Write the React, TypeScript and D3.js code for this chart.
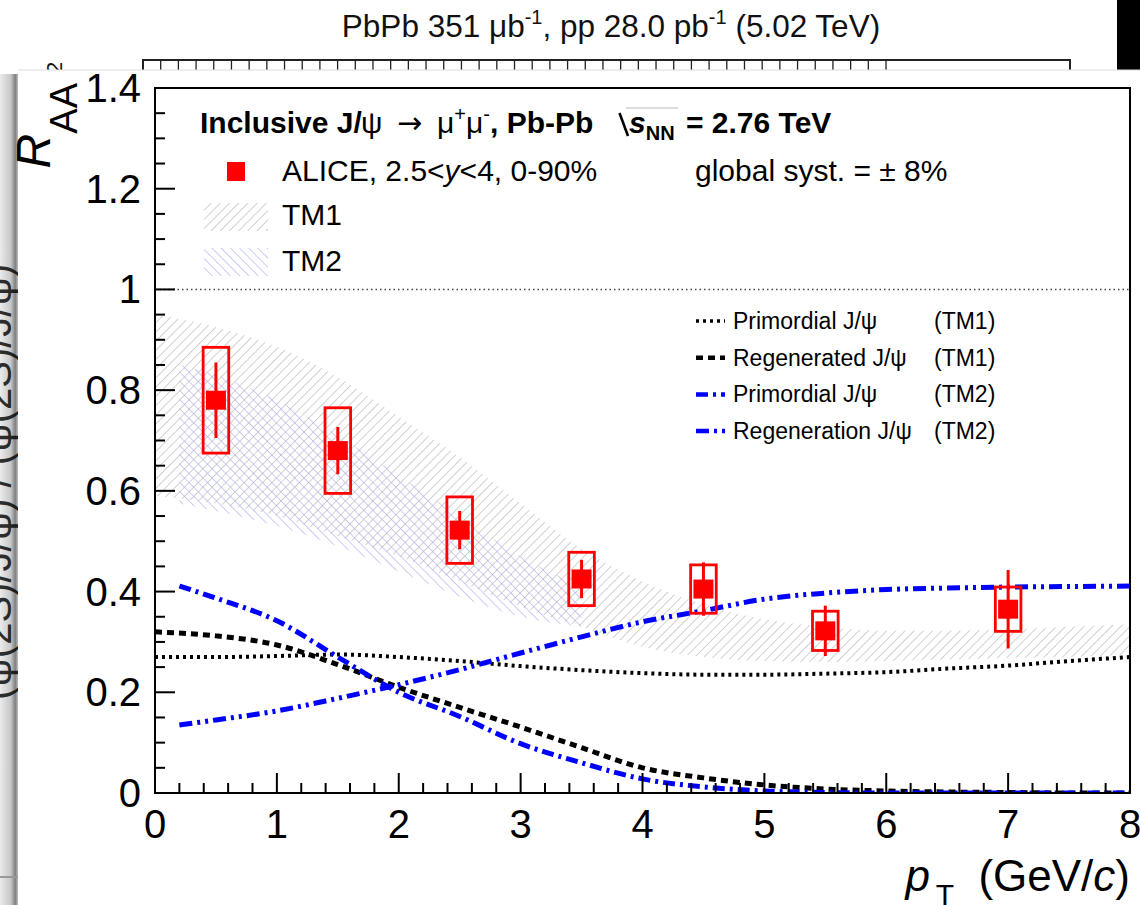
import React from "react";
import * as d3 from "d3";

// ALICE inclusive J/psi RAA points
const ptCenters = [0.5, 1.5, 2.5, 3.5, 4.5, 5.5, 7.0];
const raaValues = [0.78, 0.68, 0.522, 0.425, 0.405, 0.322, 0.365];
const statErrors = [0.075, 0.047, 0.038, 0.038, 0.053, 0.05, 0.078];
const systErrors = [0.105, 0.085, 0.066, 0.053, 0.048, 0.039, 0.044];
const systHalfWidth = 0.105;

// TM1 model (gray band + black curves)
const tm1Pt = [0, 0.5, 1, 1.5, 2, 2.5, 3, 3.5, 4, 4.5, 5, 5.5, 6, 6.5, 7, 7.5, 8];
const tm1High = [0.95, 0.925, 0.886, 0.826, 0.747, 0.667, 0.575, 0.485, 0.42, 0.375, 0.345, 0.33, 0.322, 0.322, 0.325, 0.33, 0.335];
const tm1Low = [0.59, 0.575, 0.55, 0.51, 0.47, 0.42, 0.37, 0.33, 0.29, 0.27, 0.262, 0.26, 0.262, 0.265, 0.268, 0.27, 0.275];
const tm1Primordial = [0.27, 0.27, 0.272, 0.275, 0.27, 0.262, 0.252, 0.244, 0.238, 0.235, 0.235, 0.237, 0.24, 0.247, 0.253, 0.262, 0.27];
const tm1Regenerated = [0.32, 0.312, 0.294, 0.255, 0.21, 0.17, 0.131, 0.09, 0.05, 0.03, 0.016, 0.008, 0.004, 0.002, 0.001, 0, 0];

// TM2 model (blue band + blue curves)
const tm2Pt = [0.2, 0.5, 1, 1.5, 2, 2.5, 3, 3.5, 4, 4.5, 5, 5.5, 6, 6.5, 7, 7.5, 8];
const tm2Primordial = [0.411, 0.387, 0.342, 0.27, 0.2, 0.152, 0.098, 0.06, 0.028, 0.012, 0.004, 0.001, 0, 0, 0, 0, 0];
const tm2Regeneration = [0.135, 0.145, 0.163, 0.188, 0.215, 0.245, 0.278, 0.31, 0.34, 0.362, 0.385, 0.397, 0.404, 0.407, 0.409, 0.41, 0.411];
const tm2BandPt = [0.2, 0.5, 1, 1.5, 2, 2.5, 3, 3.5];
const tm2High = [0.85, 0.83, 0.78, 0.71, 0.63, 0.55, 0.47, 0.41];
const tm2Low = [0.575, 0.56, 0.53, 0.49, 0.44, 0.39, 0.35, 0.33];

const xTickLabels = ["0", "1", "2", "3", "4", "5", "6", "7", "8"];
const yTickLabels = ["0", "0.2", "0.4", "0.6", "0.8", "1", "1.2", "1.4"];

const curveLegend = [
  { label: "Primordial J/\u03c8", model: "(TM1)", color: "#000", dash: "3 4", width: 4 },
  { label: "Regenerated J/\u03c8", model: "(TM1)", color: "#000", dash: "7 5", width: 5 },
  { label: "Primordial J/\u03c8", model: "(TM2)", color: "#0000ff", dash: "12 5 3 5", width: 5 },
  { label: "Regeneration J/\u03c8", model: "(TM2)", color: "#0000ff", dash: "13 5 3 5 3 5", width: 5 },
];

// background plot top axis ticks
const bgTicks = d3.range(0, 43);

const FONT = "'Liberation Sans', Arial, Helvetica, sans-serif";

const App: React.FC = () => {
  const width = 1140;
  const height = 905;

  const x = d3.scaleLinear().domain([0, 8]).range([155, 1130]);
  const y = d3.scaleLinear().domain([0, 1.4]).range([793, 88]);
  const bgX = d3.scaleLinear().domain([0, 52.4]).range([143, 1070]);

  const line = d3
    .line<[number, number]>()
    .x((d) => x(d[0]))
    .y((d) => y(d[1]))
    .curve(d3.curveMonotoneX);

  const band = d3
    .area<[number, number, number]>()
    .x((d) => x(d[0]))
    .y0((d) => y(d[1]))
    .y1((d) => y(d[2]))
    .curve(d3.curveMonotoneX);

  const tm1Band = band(tm1Pt.map((p, i) => [p, tm1Low[i], tm1High[i]]));
  const tm2Band = band(tm2BandPt.map((p, i) => [p, tm2Low[i], tm2High[i]]));

  const curves = [
    tm1Pt.map((p, i) => [p, tm1Primordial[i]] as [number, number]),
    tm1Pt.map((p, i) => [p, tm1Regenerated[i]] as [number, number]),
    tm2Pt.map((p, i) => [p, tm2Primordial[i]] as [number, number]),
    tm2Pt.map((p, i) => [p, tm2Regeneration[i]] as [number, number]),
  ];

  const xTicks = x.ticks(40);
  const yTicks = y.ticks(28);
  const isInt = (t: number) => Math.abs(t - Math.round(t)) < 1e-6;
  const isMajorY = (t: number) => Math.abs(t / 0.2 - Math.round(t / 0.2)) < 1e-6;

  const [x0, x1] = x.range();
  const [y0, y1] = y.range();

  return (
    <svg
      width={width}
      height={height}
      style={{ position: "absolute", left: 0, top: 0, background: "#fff" }}
      fontFamily={FONT}
    >
      <defs>
        <pattern id="hatchTM1" width="6.5" height="6.5" patternUnits="userSpaceOnUse" patternTransform="rotate(45)">
          <line x1="0" y1="0" x2="0" y2="6.5" stroke="#b3b3b3" strokeWidth="1.2" />
        </pattern>
        <pattern id="hatchTM2" width="6.5" height="6.5" patternUnits="userSpaceOnUse" patternTransform="rotate(-45)">
          <line x1="0" y1="0" x2="0" y2="6.5" stroke="#a9a9f2" strokeWidth="1.2" />
        </pattern>
        <linearGradient id="shadow" x1="0" x2="1" y1="0" y2="0">
          <stop offset="0" stopColor="#000" stopOpacity="0.08" />
          <stop offset="0.6" stopColor="#000" stopOpacity="0.22" />
          <stop offset="0.85" stopColor="#000" stopOpacity="0.5" />
          <stop offset="1" stopColor="#000" stopOpacity="0.25" />
        </linearGradient>
        <clipPath id="frameClip">
          <rect x={x0} y={y1} width={x1 - x0} height={y0 - y1} />
        </clipPath>
      </defs>

      {/* background plot peeking out behind */}
      <text x={611} y={37} textAnchor="middle" fontSize={31.5} fill="#111">
        PbPb 351 {"\u03bc"}b
        <tspan fontSize={20} dy={-13}>-1</tspan>
        <tspan dy={13}>, pp 28.0 pb</tspan>
        <tspan fontSize={20} dy={-13}>-1</tspan>
        <tspan dy={13}> (5.02 TeV)</tspan>
      </text>
      <path d={`M${bgX(0)},75V60H${bgX(52.4)}V75`} fill="none" stroke="#222" strokeWidth={2} />
      {bgTicks.map((t) => (
        <line key={t} x1={bgX(t)} x2={bgX(t)} y1={60} y2={72} stroke="#222" strokeWidth={1.3} />
      ))}
      <rect x={1117} y={0} width={23} height={70} fill="#000" />
      <text transform="translate(11,700) rotate(-90)" fontSize={40} fill="#333">
        ({"\u03c8"}(2S)/J/{"\u03c8"})  /  ({"\u03c8"}(2S)/J/{"\u03c8"})
      </text>
      <text transform="translate(62,74) rotate(-90)" fontSize={22} fill="#111">2</text>

      {/* foreground panel with shadow */}
      <rect x={0} y={74} width={18} height={831} fill="url(#shadow)" />
      <line x1={0} x2={18} y1={877} y2={877} stroke="#999" strokeWidth={2} />
      <rect x={18} y={70} width={1122} height={835} fill="#fff" />
      <line x1={18} x2={1140} y1={70} y2={70} stroke="#ddd" strokeWidth={1} />

      {/* bands */}
      <g clipPath="url(#frameClip)">
        <path d={tm1Band ?? ""} fill="url(#hatchTM1)" />
        <path d={tm2Band ?? ""} fill="url(#hatchTM2)" />
      </g>

      {/* R = 1 reference */}
      <line x1={x0} x2={x1} y1={y(1)} y2={y(1)} stroke="#444" strokeWidth={1.5} strokeDasharray="1.5 3" />

      {/* model curves */}
      <g clipPath="url(#frameClip)" fill="none">
        {curves.map((c, i) => (
          <path
            key={i}
            d={line(c) ?? ""}
            stroke={curveLegend[i].color}
            strokeWidth={curveLegend[i].width}
            strokeDasharray={curveLegend[i].dash}
          />
        ))}
      </g>

      {/* data */}
      {ptCenters.map((p, i) => {
        const cx = x(p);
        const cy = y(raaValues[i]);
        return (
          <g key={i}>
            <rect
              x={x(p - systHalfWidth)}
              y={y(raaValues[i] + systErrors[i])}
              width={x(p + systHalfWidth) - x(p - systHalfWidth)}
              height={y(raaValues[i] - systErrors[i]) - y(raaValues[i] + systErrors[i])}
              fill="none"
              stroke="#ff0000"
              strokeWidth={2.8}
            />
            <line
              x1={cx}
              x2={cx}
              y1={y(raaValues[i] + statErrors[i])}
              y2={y(raaValues[i] - statErrors[i])}
              stroke="#ff0000"
              strokeWidth={3}
            />
            <rect x={cx - 10} y={cy - 9.5} width={20} height={19} fill="#ff0000" />
          </g>
        );
      })}

      {/* frame and axes */}
      <rect x={x0} y={y1} width={x1 - x0} height={y0 - y1} fill="none" stroke="#000" strokeWidth={2} />
      {xTicks.map((t) => (
        <line key={`xt${t}`} x1={x(t)} x2={x(t)} y1={y0} y2={y0 - (isInt(t) ? 20 : 10)} stroke="#000" strokeWidth={2} />
      ))}
      {yTicks.map((t) => (
        <line key={`yt${t}`} x1={x0} x2={x0 + (isMajorY(t) ? 20 : 10)} y1={y(t)} y2={y(t)} stroke="#000" strokeWidth={2} />
      ))}
      {xTickLabels.map((l, i) => (
        <text key={`xl${l}`} x={x(i)} y={838} textAnchor="middle" fontSize={40} fill="#000">
          {l}
        </text>
      ))}
      {yTickLabels.map((l, i) => (
        <text key={`yl${l}`} x={141} y={y(i * 0.2) + 14} textAnchor="end" fontSize={40} fill="#000">
          {l}
        </text>
      ))}

      {/* axis titles */}
      <text x={1130} y={891} textAnchor="end" fontSize={44} fill="#000">
        <tspan fontStyle="italic">p</tspan>
        <tspan fontSize={30} dx={6} dy={14}>T</tspan>
        <tspan dx={12} dy={-14}> (GeV/</tspan>
        <tspan fontStyle="italic">c</tspan>
        <tspan>)</tspan>
      </text>
      <text transform="translate(50,83) rotate(-90)" textAnchor="end" fill="#000">
        <tspan fontSize={48} fontStyle="italic">R</tspan>
        <tspan fontSize={38} dy={27}>AA</tspan>
      </text>

      {/* header */}
      <text x={200} y={133} fontSize={30} fontWeight="bold" fill="#000">Inclusive J/</text>
      <text x={361} y={133} fontSize={30} fill="#000">{"\u03c8"}</text>
      <text x={397} y={133} fontSize={30} fontFamily="'DejaVu Sans', sans-serif" fill="#000">{"\u2192"}</text>
      <text x={437} y={133} fontSize={30} fill="#000">
        {"\u03bc"}
        <tspan fontSize={20} dy={-12}>+</tspan>
        <tspan dy={12}>{"\u03bc"}</tspan>
        <tspan fontSize={20} dy={-12}>-</tspan>
      </text>
      <text x={490} y={133} fontSize={30} fontWeight="bold" fill="#000">, Pb-Pb</text>
      <path d="M619.5,113 L628,136" stroke="#000" strokeWidth={2.6} fill="none" />
      <line x1={626} x2={678} y1={108} y2={108} stroke="#bbb" strokeWidth={1} />
      <text x={629} y={133} fontSize={30} fontWeight="bold" fill="#000">
        <tspan fontStyle="italic">s</tspan>
        <tspan fontSize={20} dy={7}>NN</tspan>
      </text>
      <text x={686} y={133} fontSize={30} fontWeight="bold" fill="#000">= 2.76 TeV</text>

      {/* data/band legend */}
      <rect x={227} y={162} width={18} height={19} fill="#ff0000" />
      <text x={282} y={181} fontSize={30} fill="#000">
        ALICE, 2.5&lt;<tspan fontStyle="italic">y</tspan>&lt;4, 0-90%
      </text>
      <text x={695} y={181} fontSize={30} fill="#000">global syst. = {"\u00b1"} 8%</text>
      <rect x={204} y={203} width={64} height={28} fill="url(#hatchTM1)" />
      <text x={282} y={225} fontSize={30} fill="#000">TM1</text>
      <rect x={204} y={248} width={64} height={28} fill="url(#hatchTM2)" />
      <text x={282} y={271} fontSize={30} fill="#000">TM2</text>

      {/* curve legend */}
      {curveLegend.map((c, i) => {
        const cy = 321 + i * 36.7;
        return (
          <g key={`cl${i}`}>
            <line x1={696} x2={725} y1={cy} y2={cy} stroke={c.color} strokeWidth={c.width - 0.5} strokeDasharray={c.dash} />
            <text x={733} y={cy + 8} fontSize={23} fill="#000">{c.label}</text>
            <text x={934} y={cy + 8} fontSize={23} fill="#000">{c.model}</text>
          </g>
        );
      })}
    </svg>
  );
};

export default App;
